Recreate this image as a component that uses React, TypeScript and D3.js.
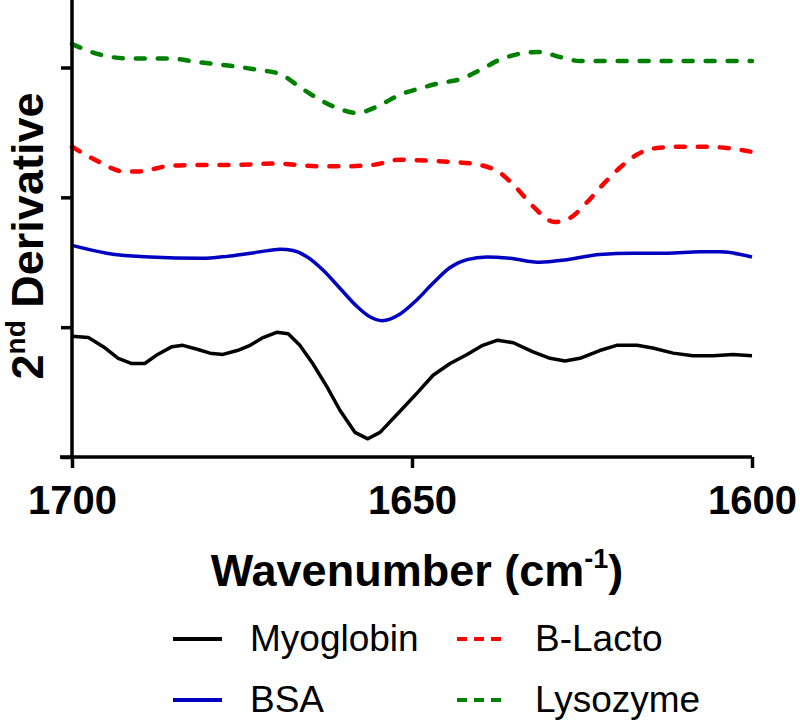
import { useEffect, useRef } from 'react'
import * as d3 from 'd3'

// wavenumber (cm-1) / 2nd derivative (offset, arbitrary units)
const myoWn = [1700, 1697.6, 1695.4, 1693.2, 1691.2, 1689.3, 1687.4, 1685.3, 1683.7, 1681.6, 1679.7, 1677.8, 1675.7, 1673.8, 1671.9, 1669.9, 1668.2, 1666.5, 1664.6, 1662.5, 1660.6, 1658.4, 1656.5, 1654.7, 1651.8, 1649.3, 1646.9, 1644.4, 1641.9, 1639.6, 1637.4, 1635.1, 1632.2, 1629.7, 1627.5, 1625.3, 1622.4, 1619.9, 1616.9, 1614.6, 1611.6, 1608.7, 1605.7, 1602.8, 1600]
const myoVal = [0.93, 0.92, 0.85, 0.76, 0.72, 0.72, 0.79, 0.85, 0.86, 0.83, 0.8, 0.79, 0.82, 0.86, 0.92, 0.96, 0.95, 0.86, 0.72, 0.54, 0.36, 0.19, 0.14, 0.19, 0.35, 0.49, 0.63, 0.72, 0.79, 0.86, 0.9, 0.88, 0.81, 0.76, 0.74, 0.76, 0.82, 0.86, 0.86, 0.84, 0.8, 0.78, 0.78, 0.79, 0.78]

const bsaWn = [1700, 1694.9, 1688.5, 1681.2, 1676.3, 1672.4, 1669.4, 1667.5, 1665.4, 1663.1, 1660.6, 1658.1, 1656.2, 1654.4, 1651.8, 1649.3, 1646.9, 1644.4, 1641.9, 1639, 1635.6, 1631.2, 1627.2, 1622.4, 1617.5, 1612.5, 1607.6, 1604.7, 1600]
const bsaVal = [1.63, 1.57, 1.54, 1.53, 1.55, 1.58, 1.6, 1.59, 1.54, 1.44, 1.3, 1.16, 1.08, 1.05, 1.1, 1.21, 1.34, 1.46, 1.52, 1.54, 1.53, 1.5, 1.52, 1.56, 1.57, 1.57, 1.58, 1.58, 1.54]

const lactoWn = [1700, 1695.9, 1692.5, 1690, 1686, 1681.2, 1676.3, 1669.9, 1664, 1659.6, 1655.7, 1651.8, 1646.9, 1643.4, 1640, 1637.1, 1634.6, 1632.2, 1629, 1626.8, 1624.3, 1621.9, 1619.4, 1616.9, 1614, 1610.1, 1607.2, 1603.7, 1600]
const lactoVal = [2.39, 2.27, 2.2, 2.2, 2.24, 2.25, 2.25, 2.26, 2.24, 2.24, 2.25, 2.29, 2.28, 2.27, 2.25, 2.19, 2.07, 1.93, 1.81, 1.84, 1.96, 2.1, 2.23, 2.33, 2.38, 2.39, 2.39, 2.38, 2.35]

const lysoWn = [1700, 1695.9, 1691.9, 1686, 1681.2, 1676.3, 1672.4, 1669.4, 1666.5, 1663.5, 1660.6, 1658.1, 1655.1, 1651.8, 1648.8, 1645.9, 1642.9, 1640, 1637.1, 1633.7, 1631.2, 1628.2, 1625.3, 1621.3, 1617.5, 1612.5, 1607.6, 1600]
const lysoVal = [3.18, 3.1, 3.07, 3.07, 3.04, 3.01, 2.98, 2.95, 2.85, 2.75, 2.68, 2.65, 2.7, 2.79, 2.84, 2.88, 2.91, 2.98, 3.06, 3.11, 3.12, 3.08, 3.05, 3.05, 3.05, 3.05, 3.05, 3.05]

const xTicks = [1700, 1650, 1600]
const yTicks = [0, 1, 2, 3]

const series = [
  { name: 'Myoglobin', wn: myoWn, val: myoVal, color: '#000000', dash: null, curve: d3.curveLinear },
  { name: 'BSA', wn: bsaWn, val: bsaVal, color: '#0000c0', dash: null, curve: d3.curveMonotoneX },
  { name: 'B-Lacto', wn: lactoWn, val: lactoVal, color: '#ff0000', dash: '9 13', curve: d3.curveMonotoneX },
  { name: 'Lysozyme', wn: lysoWn, val: lysoVal, color: '#008000', dash: '9 13', curve: d3.curveMonotoneX },
]

const W = 800
const H = 721

export default function App() {
  const svgRef = useRef<SVGSVGElement>(null)

  useEffect(() => {
    if (!svgRef.current) return
    const svg = d3.select(svgRef.current)
    svg.selectAll('*').remove()

    const x = d3.scaleLinear().domain([1700, 1600]).range([72, 752])
    const y = d3.scaleLinear().domain([0, 3.52]).range([457, 0])

    // lines
    series.forEach(s => {
      const pts = s.wn.map((w, i) => [w, s.val[i]] as [number, number])
      const line = d3.line<[number, number]>()
        .x(d => x(d[0]))
        .y(d => y(d[1]))
        .curve(s.curve)
      svg.append('path')
        .datum(pts)
        .attr('d', line)
        .attr('fill', 'none')
        .attr('stroke', s.color)
        .attr('stroke-width', s.dash ? 4.5 : 3.5)
        .attr('stroke-linecap', s.dash ? 'round' : 'butt')
        .attr('stroke-linejoin', 'round')
        .attr('stroke-dasharray', s.dash)
    })

    // axes
    const xAxis = svg.append('g')
      .attr('transform', `translate(0,${y(0)})`)
      .call(d3.axisBottom(x).tickValues(xTicks).tickSize(11).tickSizeOuter(0).tickPadding(18).tickFormat(d3.format('d')))
    xAxis.select('.domain').attr('stroke-width', 3.5).attr('d', `M${x(1700) - 12},0H${x(1600)}`)
    xAxis.selectAll('.tick line').attr('stroke-width', 3.5)
    xAxis.selectAll('.tick text')
      .attr('fill', '#000')
      .style('font-family', '"Liberation Sans", Arial, sans-serif')
      .style('font-weight', 'bold')
      .style('font-size', '40px')

    const yAxis = svg.append('g')
      .attr('transform', `translate(${x(1700)},0)`)
      .call(d3.axisLeft(y).tickValues(yTicks).tickSize(11).tickSizeOuter(0).tickFormat(() => ''))
    yAxis.select('.domain').attr('stroke-width', 3.5).attr('d', `M0,0V${y(0)}`)
    yAxis.selectAll('.tick line').attr('stroke-width', 3.5)

    // axis titles
    const font = '"Liberation Sans", Arial, sans-serif'
    const xt = svg.append('text')
      .attr('x', 417)
      .attr('y', 586)
      .attr('text-anchor', 'middle')
      .style('font-family', font)
      .style('font-weight', 'bold')
      .style('font-size', '45px')
    xt.append('tspan').text('Wavenumber (cm')
    xt.append('tspan').attr('dy', -18).style('font-size', '27px').text('-1')
    xt.append('tspan').attr('dy', 18).text(')')

    const yt = svg.append('text')
      .attr('transform', 'translate(43,236) rotate(-90)')
      .attr('text-anchor', 'middle')
      .style('font-family', font)
      .style('font-weight', 'bold')
      .style('font-size', '45px')
    yt.append('tspan').text('2')
    yt.append('tspan').attr('dy', -18).style('font-size', '28px').text('nd')
    yt.append('tspan').attr('dy', 18).text(' Derivative')

    // legend
    const legendPos = [
      { lx: 173, tx: 250, ly: 639 },
      { lx: 173, tx: 250, ly: 700 },
      { lx: 457, tx: 535, ly: 639 },
      { lx: 457, tx: 535, ly: 700 },
    ]
    const order = ['Myoglobin', 'BSA', 'B-Lacto', 'Lysozyme']
    order.forEach((name, i) => {
      const s = series.find(d => d.name === name)!
      const p = legendPos[i]
      svg.append('line')
        .attr('x1', p.lx).attr('x2', p.lx + 49)
        .attr('y1', p.ly).attr('y2', p.ly)
        .attr('stroke', s.color)
        .attr('stroke-width', 4)
        .attr('stroke-dasharray', s.dash ? '10 7' : null)
      svg.append('text')
        .attr('x', p.tx)
        .attr('y', p.ly + 12)
        .style('font-family', font)
        .style('font-size', '37px')
        .text(s.name)
    })
  }, [])

  return (
    <svg
      ref={svgRef}
      width={W}
      height={H}
      style={{ position: 'absolute', left: 0, top: 0, background: '#fff' }}
    />
  )
}
